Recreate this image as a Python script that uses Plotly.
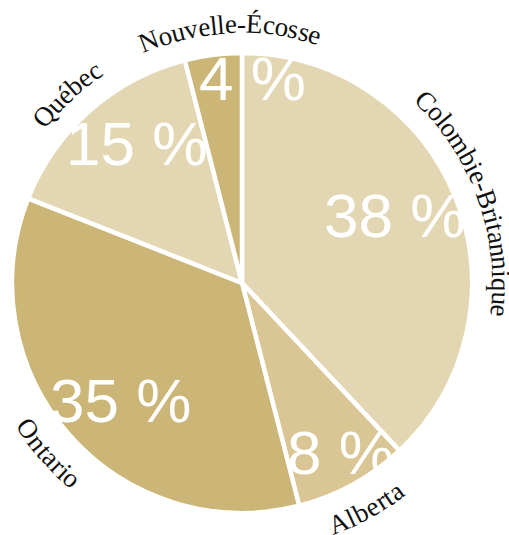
import math
import plotly.graph_objects as go

# ---- data ----
provinces = ["Colombie-Britannique", "Alberta", "Ontario", "Québec", "Nouvelle-Écosse"]
shares = [38, 8, 35, 15, 4]

# ---- style ----
colors = ["#e3d6b2", "#d9c694", "#cbb577", "#e3d6b2", "#cbb577"]
W, H = 509, 535
CX, CY, R = 242.0, 283.0, 230.0
LINE_W = 4.5
PCT_SIZE = 62
LBL_SIZE = 27
pct_radius = [167, 196, 169, 175, 205]     # radial distance of percent text (px)
pct_shift = [-2.4, -1.4, -2.8, 4.4, 10.0]  # angular shift (deg)
label_shift = [2.0, 0.0, 0.0, -1.4, 4.5]   # angular shift of curved label (deg)
LBL_R = 259.0                              # radius of label glyph centres
LBL_PATH = 256.0                           # radius used for glyph advance

# Times / Liberation Serif advance widths (per 1000 em)
TW = {'N': 722, 'o': 500, 'u': 500, 'v': 500, 'e': 444, 'l': 278, '-': 333,
      'É': 611, 'c': 444, 's': 389, 'C': 667, 'm': 778, 'b': 500, 'i': 278,
      'B': 667, 'r': 333, 't': 278, 'a': 444, 'n': 500, 'q': 500, 'A': 722,
      'O': 722, 'Q': 722, 'é': 444}


def to_paper(r, theta_deg):
    t = math.radians(theta_deg)
    px = CX + r * math.sin(t)
    py = CY - r * math.cos(t)
    return px / W, 1 - py / H


def norm(a):
    return (a + 180) % 360 - 180


total = sum(shares)
annotations = []
cum = 0.0
for i, (name, v) in enumerate(zip(provinces, shares)):
    a0 = cum / total * 360
    cum += v
    a1 = cum / total * 360
    mid = (a0 + a1) / 2

    # percent text
    x, y = to_paper(pct_radius[i], mid + pct_shift[i])
    annotations.append(dict(
        x=x, y=y, xref="paper", yref="paper", text=f"{v} %", showarrow=False,
        xanchor="center", yanchor="middle",
        font=dict(family="Liberation Sans, Arial", size=PCT_SIZE, color="white")))

    # curved label, one glyph at a time
    centre = mid + label_shift[i]
    widths = [TW.get(ch, 500) / 1000 * LBL_SIZE for ch in name]
    tot_w = sum(widths)
    flipped = 90 < centre % 360 < 270
    sign = -1 if flipped else 1
    start = centre - sign * math.degrees(tot_w / 2 / LBL_PATH)
    acc = 0.0
    for ch, w in zip(name, widths):
        ang = start + sign * math.degrees((acc + w / 2) / LBL_PATH)
        acc += w
        x, y = to_paper(LBL_R, ang)
        rot = norm(ang - 180) if flipped else norm(ang)
        annotations.append(dict(
            x=x, y=y, xref="paper", yref="paper", text=ch, showarrow=False,
            xanchor="center", yanchor="middle", textangle=rot, borderpad=0,
            font=dict(family="Liberation Serif, Times New Roman", size=LBL_SIZE,
                      color="#111111")))

fig = go.Figure(go.Pie(
    labels=provinces, values=shares, sort=False, direction="clockwise", rotation=0,
    marker=dict(colors=colors, line=dict(color="white", width=LINE_W)),
    textinfo="none", hoverinfo="label+percent", showlegend=False,
    domain=dict(x=[(CX - R) / W, (CX + R) / W],
                y=[(H - CY - R) / H, (H - CY + R) / H])))

fig.update_layout(width=W, height=H, margin=dict(l=0, r=0, t=0, b=0),
                  paper_bgcolor="white", plot_bgcolor="white",
                  annotations=annotations)

fig.write_html("out.html", config={"displayModeBar": False},
               post_script="document.body.style.margin='0';"
                           "document.body.style.overflow='hidden';")
